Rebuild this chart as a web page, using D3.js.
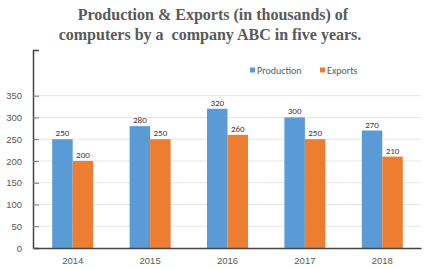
<!DOCTYPE html>
<html>
<head>
<meta charset="utf-8">
<script src="https://cdn.jsdelivr.net/npm/d3@7"></script>
<style>
  body { margin: 0; background: #fff; }
  svg { display: block; font-family: Calibri, "Liberation Sans", "DejaVu Sans", sans-serif; }
</style>
</head>
<body>
<svg id="chart"></svg>
<script>
const width = 429;
const height = 269;

// data
const years = ["2014", "2015", "2016", "2017", "2018"];
const production = [250, 280, 320, 300, 270];
const exportsVals = [200, 250, 260, 250, 210];
const seriesNames = ["Production", "Exports"];
const yTicks = [0, 50, 100, 150, 200, 250, 300, 350];

const colors = ["#5b9bd5", "#ed7d31"];

const svg = d3.select("svg#chart")
  .attr("width", width)
  .attr("height", height);

// title
const title = svg.append("g")
  .attr("font-family", "'Liberation Serif', 'DejaVu Serif', serif")
  .attr("font-weight", "bold")
  .attr("font-size", 16)
  .attr("fill", "#595959")
  .attr("text-anchor", "middle");
title.append("text").attr("x", 213).attr("y", 20).text("Production & Exports (in thousands) of");
title.append("text").attr("x", 210).attr("y", 40).style("white-space", "pre")
  .text("computers by a  company ABC in five years.");

// scales
const x = d3.scaleBand()
  .domain(years)
  .range([34, 421]);

const xInner = d3.scaleBand()
  .domain(seriesNames)
  .range([0, 41]);

const y = d3.scaleLinear()
  .domain([0, 455])
  .range([248, 50]);

// gridlines
svg.append("g")
  .selectAll("line")
  .data(yTicks.slice(1))
  .enter()
  .append("line")
    .attr("x1", 34)
    .attr("x2", 421)
    .attr("y1", d => y(d))
    .attr("y2", d => y(d))
    .attr("stroke", "#e6e6e6")
    .attr("stroke-width", 1);

// y axis
const yAxis = svg.append("g")
  .attr("transform", "translate(33,0)")
  .call(d3.axisLeft(y).tickValues(yTicks).tickSize(-6).tickPadding(11));
yAxis.select(".domain").attr("stroke", "#444").attr("stroke-width", 1.5);
yAxis.selectAll(".tick line").attr("stroke", "#777");
yAxis.selectAll("text").attr("fill", "#595959").attr("font-size", 9.5);

// bars
const rows = years.map((yr, i) => ({ year: yr, values: [production[i], exportsVals[i]] }));
const groups = svg.append("g")
  .selectAll("g")
  .data(rows)
  .enter()
  .append("g")
    .attr("transform", d => "translate(" + (x(d.year) + (x.bandwidth() - 41) / 2) + ",0)");

groups.selectAll("rect")
  .data(d => d.values.map((v, j) => ({ key: seriesNames[j], value: v, j: j })))
  .enter()
  .append("rect")
    .attr("x", d => xInner(d.key))
    .attr("y", d => y(d.value))
    .attr("width", xInner.bandwidth())
    .attr("height", d => y(0) - y(d.value))
    .attr("fill", d => colors[d.j]);

groups.selectAll("text.val")
  .data(d => d.values.map((v, j) => ({ key: seriesNames[j], value: v })))
  .enter()
  .append("text")
    .attr("class", "val")
    .attr("x", d => xInner(d.key) + xInner.bandwidth() / 2)
    .attr("y", d => y(d.value) - 3)
    .attr("text-anchor", "middle")
    .attr("font-size", 9)
    .attr("fill", "#404040")
    .text(d => d.value);

// x axis
const xAxis = svg.append("g")
  .attr("transform", "translate(0,248)")
  .call(d3.axisBottom(x).tickSize(0).tickPadding(9));
xAxis.select(".domain").attr("stroke", "#444").attr("stroke-width", 1.5);
xAxis.selectAll("text").attr("fill", "#595959").attr("font-size", 9.5);

// legend
const legend = svg.append("g")
  .attr("transform", "translate(250,70)");
const items = legend.selectAll("g")
  .data(seriesNames)
  .enter()
  .append("g")
    .attr("transform", (d, i) => "translate(" + (i * 70) + ",0)");
items.append("rect")
  .attr("x", 0).attr("y", -2.5)
  .attr("width", 5).attr("height", 5)
  .attr("fill", (d, i) => colors[i]);
items.append("text")
  .attr("x", 7).attr("y", 3.5)
  .attr("font-size", 10)
  .attr("fill", "#595959")
  .text(d => d);
</script>
</body>
</html>
